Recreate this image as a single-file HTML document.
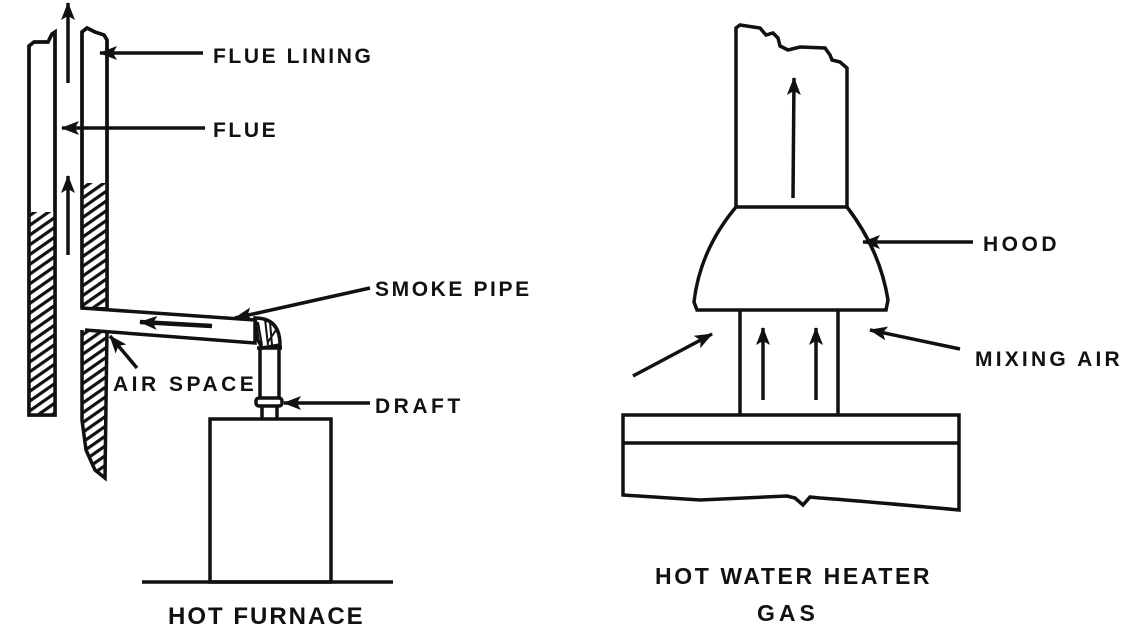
<!DOCTYPE html>
<html><head><meta charset="utf-8"><style>
html,body{margin:0;padding:0;background:#fff;}
svg{display:block;}
text{font-family:"Liberation Sans",sans-serif;font-weight:bold;fill:#111;}
</style></head><body>
<svg width="1129" height="633" viewBox="0 0 1129 633" xmlns="http://www.w3.org/2000/svg">
<defs>
<pattern id="h" patternUnits="userSpaceOnUse" width="8" height="8" patternTransform="rotate(-35)">
<rect width="8" height="8" fill="#fff"/><rect width="8" height="3.2" fill="#111"/>
</pattern>
<marker id="b" markerWidth="18" markerHeight="14" refX="17" refY="7" orient="auto" markerUnits="userSpaceOnUse">
<path d="M0,0 L18,7 L0,14 L4,7 Z" fill="#111"/></marker>
</defs>
<g stroke="#111" stroke-width="3.5" fill="none">
<path d="M29,415 L29,46 L34,42 L48,42 L52,34 L55,32 L55,415 Z" fill="#fff"/>
<rect x="30" y="212" width="24" height="202" fill="url(#h)" stroke="none"/>
<path d="M29,415 L29,46 L34,42 L48,42 L52,34 L55,32 L55,415 Z"/>
<path d="M82,308 L82,32 L87,28 L95,32 L104,35 L107,40 L107,308 Z" fill="#fff"/>
<rect x="83" y="183" width="23" height="124" fill="url(#h)" stroke="none"/>
<path d="M82,308 L82,32 L87,28 L95,32 L104,35 L107,40 L107,308"/>
<path d="M82,330 L82,420 L86,450 L95,470 L105,478 L107,330" fill="url(#h)"/>
<path d="M82,308 L255,320 L255,343 L85,330"/>
<path d="M255,318 Q280,318 280,345 L262,348 L258,340 Z" fill="#fff"/>
<path d="M258,322 L262,345 M265,319 L268,345 M270,322 L272,345 M276,330 L268,342" stroke-width="2"/>
<line x1="257" y1="348" x2="282" y2="348"/>
<path d="M260,348 L260,398 M279,348 L279,398"/>
<rect x="256" y="398" width="26" height="8" rx="3" fill="#fff"/>
<path d="M262,406 L262,419 M277,406 L277,419"/>
<rect x="210" y="419" width="121" height="163"/>
<line x1="142" y1="582" x2="393" y2="582"/>
</g>
<g stroke="#111" stroke-width="3.5" fill="none">
<line x1="68" y1="83" x2="68" y2="3" marker-end="url(#b)"/>
<line x1="68" y1="255" x2="68" y2="176" marker-end="url(#b)"/>
<line x1="203" y1="53" x2="100" y2="53" marker-end="url(#b)"/>
<line x1="205" y1="128" x2="62" y2="128" marker-end="url(#b)"/>
<line x1="370" y1="288" x2="235" y2="318" marker-end="url(#b)"/>
<line x1="212" y1="326" x2="140" y2="322" marker-end="url(#b)" stroke-width="4.5"/>
<line x1="137" y1="368" x2="110" y2="336" marker-end="url(#b)"/>
<line x1="370" y1="403" x2="284" y2="403" marker-end="url(#b)"/>
</g>
<text x="213" y="63" font-size="21" letter-spacing="2.6">FLUE LINING</text>
<text x="213" y="137" font-size="21" letter-spacing="2.6">FLUE</text>
<text x="375" y="296" font-size="21" letter-spacing="2.6">SMOKE PIPE</text>
<text x="113" y="391" font-size="21" letter-spacing="3.5">AIR SPACE</text>
<text x="375" y="413" font-size="21" letter-spacing="3.5">DRAFT</text>
<text x="168" y="624" font-size="24" letter-spacing="2">HOT FURNACE</text>

<g stroke="#111" stroke-width="3.5" fill="none">
<path d="M736,207 L736,28 L740,25 L760,28 L766,35 L773,33 L778,38 L780,46 L788,50 L800,47 L825,48 L830,55 L832,60 L840,62 L847,68 L847,207"/>
<path d="M736,207 L847,207 Q880,250 888,300 L886,310 L697,310 L694,302 Q700,250 736,207 Z"/>
<path d="M740,310 L740,415 M838,310 L838,415"/>
<path d="M623,415 L959,415 L959,510 Q850,500 820,498 L810,497 L803,505 L795,498 L787,496 L700,500 L623,495 Z"/>
<line x1="623" y1="443" x2="959" y2="443"/>
<line x1="793" y1="198" x2="794" y2="78" marker-end="url(#b)"/>
<line x1="763" y1="400" x2="763" y2="328" marker-end="url(#b)"/>
<line x1="816" y1="400" x2="816" y2="328" marker-end="url(#b)"/>
<line x1="633" y1="376" x2="712" y2="334" marker-end="url(#b)"/>
<line x1="960" y1="349" x2="870" y2="330" marker-end="url(#b)"/>
<line x1="973" y1="242" x2="863" y2="242" marker-end="url(#b)"/>
</g>
<text x="983" y="251" font-size="21" letter-spacing="3.5">HOOD</text>
<text x="975" y="366" font-size="21" letter-spacing="3.2">MIXING AIR</text>
<text x="655" y="584" font-size="23" letter-spacing="2.6">HOT WATER HEATER</text>
<text x="757" y="621" font-size="23" letter-spacing="4">GAS</text>
</svg>
</body></html>
